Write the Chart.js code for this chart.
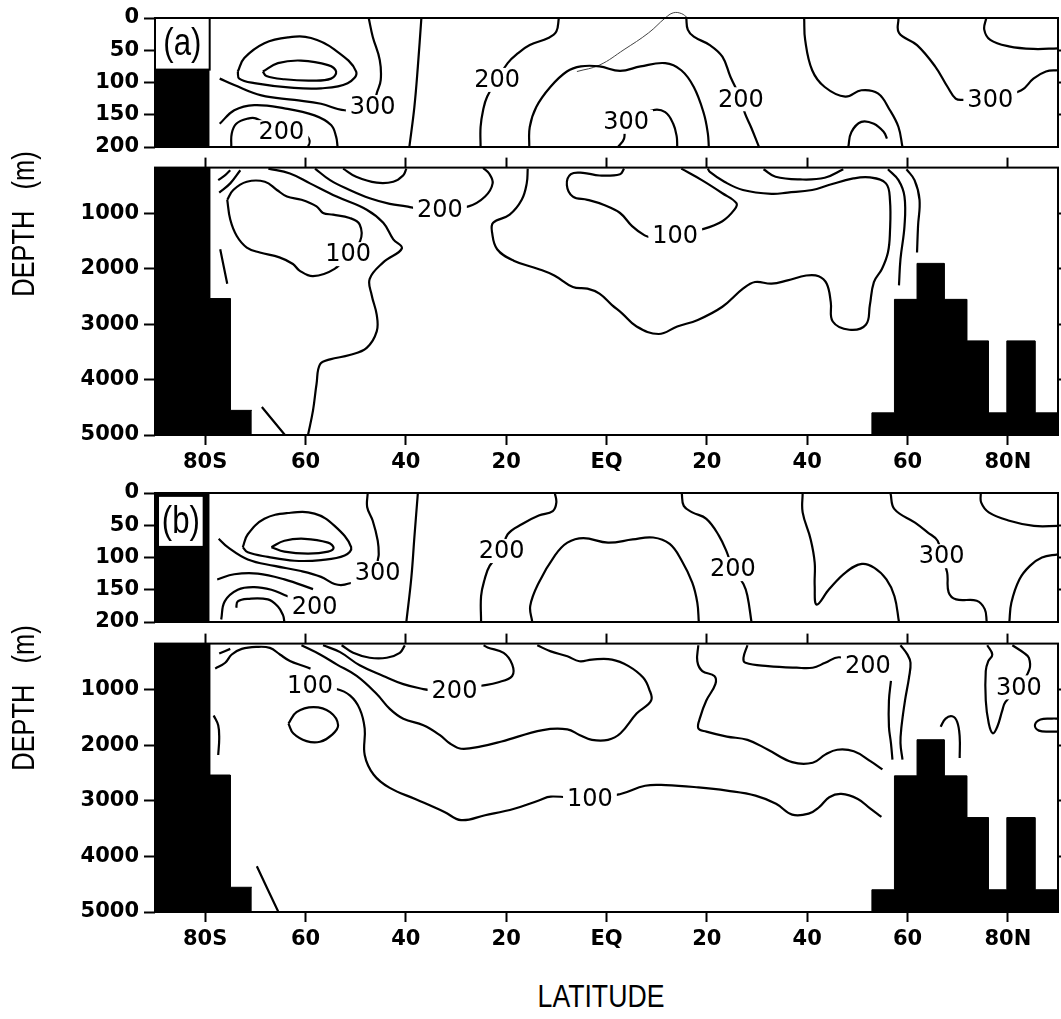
<!DOCTYPE html>
<html>
<head>
<meta charset="utf-8">
<title>Sections</title>
<script src="https://cdn.jsdelivr.net/npm/chart.js@4.4.1/dist/chart.umd.min.js"></script>
<style>
  body { margin: 0; background: #fff; }
  #page { position: relative; width: 1061px; height: 1019px; overflow: hidden; }
  #page canvas { position: absolute; left: 0; }
  .title {
    position: absolute;
    font-family: "Liberation Sans", Arial, sans-serif;
    font-size: 31px;
    line-height: 34px;
    color: #000;
    text-align: center;
    white-space: pre;
  }
  .ytitle { width: 300px; transform: rotate(-90deg) scaleX(0.82); }
  .xtitle { transform: scaleX(0.86); }
</style>
</head>
<body>
<div id="page">
  <canvas id="aUpper" width="1061" height="165" style="top:0px"></canvas>
  <canvas id="aLower" width="1061" height="335" style="top:150px"></canvas>
  <canvas id="bUpper" width="1061" height="165" style="top:475px"></canvas>
  <canvas id="bLower" width="1061" height="336" style="top:626px"></canvas>
  <div class="title ytitle" style="left:-126px; top:207px">DEPTH   (m)</div>
  <div class="title ytitle" style="left:-126px; top:681px">DEPTH   (m)</div>
  <div class="title xtitle" style="left:401px; top:980px; width:400px">LATITUDE</div>
</div>
<script>
const latTicks = [-80, -60, -40, -20, 0, 20, 40, 60, 80];
const latTickLabels = ['80S', '60', '40', '20', 'EQ', '20', '40', '60', '80N'];
const upperDepthTicks = [0, 50, 100, 150, 200];
const lowerDepthTicks = [1000, 2000, 3000, 4000, 5000];
const lowerTop = 170;

// bottom topography (step edges in latitude, top of each step in metres)
const southEdges = [-90, -79.1, -75.0, -70.7];
const southTops = [lowerTop, 2535, 4555];
const northEdges = [52.9, 57.4, 61.9, 67.3, 71.8, 76.1, 79.8, 85.4, 90];
const northTops = [4600, 2550, 1900, 2550, 3300, 4600, 3300, 4600];
const shelfTopA = 80;
const shelfTopB = 0;

// isolines as [latitude, depth] pairs
const upperA = [
  [[-68.5,83],[-65.5,70],[-60.9,66],[-55.5,73],[-53.9,83],[-54.9,94],[-58.9,97],[-64.2,95],[-67.8,90],[-68.5,83]],
  [[-73.5,83],[-72.2,62],[-68.2,39],[-63.5,30],[-58.9,31],[-54.2,49],[-49.9,83],[-51.6,101],[-56.9,109],[-62.9,108],[-70.2,101],[-73.2,94],[-73.5,83]],
  [[-47.4,0],[-46.6,29],[-45.2,65],[-45.0,96],[-45.7,114],[-46.9,138],[-52.2,143],[-56.9,133],[-62.2,127],[-68.8,120],[-74.2,104],[-77.1,94]],
  [[-77.1,164],[-74.2,143],[-70.2,135],[-64.2,140],[-58.2,151],[-54.9,166],[-53.9,184],[-53.6,200]],
  [[-74.8,200],[-74.7,179],[-73.8,164],[-71.5,156],[-69.8,156],[-64.8,177],[-60.1,182],[-59.2,190],[-59.5,200]],
  [[-36.9,0],[-37.6,75],[-38.3,138],[-39.3,200]],
  [[-9.5,0],[-10.0,21],[-11.6,31],[-15.3,42],[-17.7,55],[-19.7,70],[-21.8,96],[-23.8,122],[-24.6,143],[-25.1,169],[-25.1,200]],
  [[-15.4,200],[-15.3,169],[-14.0,138],[-11.2,107],[-7.9,83],[-5.1,75],[-1.4,75],[2.7,82],[6.8,75],[11.7,70],[14.9,81],[17.4,107],[19.4,148],[20.2,179],[20.4,200]],
  [[2.3,200],[3.5,187],[3.9,161],[9.2,143],[11.7,146],[13.3,164],[14.0,184],[14.1,200]],
  [[15.9,0],[16.2,18],[17.4,29],[20.6,42],[23.1,60],[24.7,91],[26.8,126],[27.6,148],[28.8,169],[30.4,200]],
  [[39.4,0],[39.6,34],[41.0,81],[43.5,107],[47.6,122],[50.8,112],[54.1,117],[56.5,143],[58.2,169],[59.0,200]],
  [[48.2,200],[48.8,177],[50.8,161],[53.3,164],[55.3,177],[55.9,187]],
  [[58.2,0],[58.3,23],[61.9,42],[65.5,75],[68.0,107],[69.6,125],[71.2,127],[76.5,127],[82.7,112],[85.1,94],[87.6,83],[90,81]],
  [[75.7,0],[75.3,18],[76.5,34],[80.2,44],[85.1,48],[90,47]]
];
const upperALabels = [[-46.6,138,'300'],[-64.8,177,'200'],[-21.8,96,'200'],[3.9,161,'300'],[26.8,126,'200'],[76.5,127,'300']];
// faint pencil stroke crossing the top edge
const upperAStroke = [[-5.9,83],[-1.4,73],[3.5,49],[8.4,23],[11.7,0],[13.3,-8],[14.9,-7],[16.2,0]];

const lowerA = [
  [[-77.4,396],[-76.0,307],[-75.0,218]],
  [[-77.2,621],[-75.0,455],[-73.0,218]],
  [[-75.6,752],[-74.4,574],[-71.7,425],[-68.1,425],[-65.7,574],[-63.7,693],[-60.8,752],[-57.8,871],[-56.5,990],[-54.5,1020],[-51.2,1079],[-49.2,1198],[-49.1,1495],[-51.5,1733],[-54.2,2000],[-58.5,2131],[-61.2,2030],[-62.5,1911],[-65.2,1792],[-69.1,1703],[-71.7,1614],[-73.7,1406],[-75.0,1109],[-75.6,752]],
  [[-67.4,188],[-63.1,277],[-59.1,455],[-53.8,693],[-47.8,930],[-44.5,1168],[-42.5,1465],[-40.8,1632],[-44.5,1881],[-47.2,2178],[-46.8,2475],[-45.8,2831],[-45.8,3129],[-47.8,3426],[-51.2,3556],[-55.1,3634],[-57.1,3723],[-57.8,4079],[-58.5,4555],[-59.5,5000]],
  [[-58.1,188],[-55.1,396],[-51.2,574],[-47.2,723],[-43.2,824],[-39.9,871],[-38.2,901],[-33.2,931],[-27.5,871],[-24.2,692],[-22.7,455],[-23.4,277],[-24.6,176]],
  [[-52.5,188],[-49.9,336],[-45.8,443],[-42.5,425],[-40.5,307],[-39.9,188]],
  [[-77.0,1644],[-75.6,2267]],
  [[-68.7,4495],[-64.1,5000]],
  [[-15.7,188],[-15.9,455],[-16.9,752],[-19.3,1020],[-22.6,1168],[-22.8,1346],[-21.8,1644],[-18.5,1851],[-13.6,2000],[-10.4,2119],[-6.7,2327],[-3.8,2357],[-1.4,2446],[1.1,2653],[3.1,2802],[6.0,3040],[10.4,3176],[14.1,3040],[18.2,2921],[23.1,2683],[27.2,2357],[29.6,2237],[32.9,2267],[36.1,2208],[39.8,2119],[42.3,2131],[43.9,2267],[44.7,2594],[45.1,2950],[48.4,3099],[51.7,3010],[52.5,2653],[53.3,2237],[54.9,2000],[56.1,1703],[56.5,1346],[56.5,752],[55.7,455],[52.5,348],[49.2,366],[44.3,485],[41.0,574],[36.1,621],[32.9,645],[27.2,574],[23.5,425],[20.6,247],[20.2,188]],
  [[3.5,188],[2.7,289],[-1.4,313],[-4.7,265],[-7.1,289],[-7.9,485],[-6.7,693],[-3.8,752],[-0.6,841],[2.7,990],[5.1,1227],[7.6,1394],[9.2,1435],[13.7,1394],[19.0,1287],[23.1,1138],[25.5,930],[25.9,812],[23.1,633],[19.0,396],[14.9,188]],
  [[31.3,200],[33.7,336],[38.6,384],[43.5,354],[47.2,200]],
  [[56.1,200],[58.2,396],[59.4,693],[59.4,1227],[58.6,1822],[58.3,2297]],
  [[59.8,200],[61.4,396],[62.4,752],[62.1,1227],[61.9,1703]]
];
const lowerALabels = [[-51.5,1733,'100'],[-33.2,931,'200'],[13.7,1394,'100']];

const upperB = [
  [[-66.8,84],[-64.2,74],[-60.2,71],[-55.5,77],[-54.4,85],[-55.5,91],[-59.5,94],[-64.2,91],[-66.8,84]],
  [[-72.5,84],[-71.5,64],[-68.2,40],[-63.5,31],[-58.2,32],[-54.2,51],[-50.9,84],[-52.2,97],[-56.9,104],[-62.2,105],[-67.5,99],[-71.5,92],[-72.5,84]],
  [[-47.6,0],[-47.7,22],[-46.6,43],[-45.6,74],[-45.4,95],[-45.6,105],[-45.6,124],[-52.2,142],[-54.2,141],[-56.9,130],[-60.9,121],[-66.2,113],[-71.5,103],[-75.5,84],[-77.3,71]],
  [[-77.6,134],[-74.2,126],[-69.5,125],[-64.2,134],[-58.5,149]],
  [[-76.8,196],[-76.1,168],[-73.5,150],[-70.2,146],[-66.8,150],[-64.2,158],[-58.2,176]],
  [[-73.8,178],[-73.5,168],[-71.5,164],[-67.5,165],[-65.5,176],[-64.5,189],[-64.2,200]],
  [[-37.6,0],[-38.3,69],[-38.9,131],[-39.9,200]],
  [[-10.3,0],[-10.0,15],[-10.7,28],[-13.5,35],[-16.8,48],[-19.7,64],[-20.9,90],[-23.3,113],[-24.3,134],[-25.0,160],[-25.0,200]],
  [[-14.8,200],[-15.2,175],[-13.5,139],[-10.3,97],[-7.8,77],[-4.6,70],[0.3,77],[5.2,72],[9.3,69],[12.6,79],[15.0,105],[17.1,139],[18.1,170],[18.4,200]],
  [[15.0,0],[15.4,20],[17.1,30],[19.9,40],[22.4,66],[24.0,92],[25.2,118],[27.3,141],[28.1,160],[28.9,200]],
  [[39.1,0],[39.1,30],[40.7,72],[41.5,108],[41.5,144],[41.9,173],[44.4,149],[47.7,123],[50.9,110],[53.4,116],[55.8,134],[57.4,160],[58.3,200]],
  [[56.6,0],[57.4,25],[61.5,46],[64.0,61],[66.0,74],[66.8,98],[67.9,123],[68.2,154],[69.7,165],[73.8,167],[75.4,180],[75.8,200]],
  [[74.6,0],[74.7,15],[76.2,30],[80.3,43],[85.2,51],[90,51]],
  [[80.3,200],[80.7,170],[82.3,134],[84.4,113],[86.8,100],[90,95]]
];
const upperBLabels = [[-45.6,124,'300'],[-58.2,176,'200'],[-20.9,90,'200'],[25.2,118,'200'],[66.8,98,'300']];

const lowerB = [
  [[-78.0,620],[-76.0,514],[-74.7,366],[-72.7,265],[-69.7,229],[-67.1,247],[-65.1,366],[-63.1,484],[-60.4,573],[-59.0,620]],
  [[-77.2,348],[-75.0,265]],
  [[-59.1,929],[-53.8,988],[-51.1,1107],[-49.2,1344],[-48.2,1700],[-48.2,2174],[-46.4,2530],[-43.2,2767],[-37.9,2975],[-32.3,3200],[-29.0,3347],[-24.2,3259],[-18.4,3141],[-13.5,2993],[-11.1,2922],[-3.3,2965],[2.8,2876],[7.7,2728],[11.8,2717],[18.3,2758],[24.0,2816],[29.7,2905],[33.8,3053],[37.0,3248],[40.3,3230],[42.4,3112],[44.4,2935],[46.8,2876],[50.1,2965],[52.6,3141],[54.8,3289]],
  [[-60.8,200],[-57.1,366],[-53.8,543],[-49.8,751],[-45.8,1077],[-43.2,1344],[-40.5,1522],[-36.5,1640],[-33.2,1818],[-31.2,1967],[-29.0,2062],[-25.0,2020],[-20.9,1931],[-12.7,1726],[-7.8,1713],[-5.4,1814],[-2.9,1903],[0.3,1903],[2.8,1784],[6.0,1430],[8.9,1195],[8.5,988],[7.3,781],[4.4,575],[1.1,457],[-2.9,457],[-5.4,487],[-7.8,398],[-11.1,310],[-13.8,200]],
  [[-56.5,200],[-53.1,324],[-49.2,561],[-44.5,751],[-40.5,899],[-36.5,988],[-34.9,1006],[-30.3,1018],[-25.0,929],[-21.7,869],[-18.8,752],[-18.8,545],[-20.5,338],[-23.7,239],[-24.5,200]],
  [[-52.8,200],[-50.5,336],[-47.2,425],[-43.8,425],[-41.2,336],[-40.2,200]],
  [[-63.4,1611],[-61.8,1403],[-58.4,1314],[-55.1,1403],[-53.5,1640],[-54.8,1818],[-57.1,1937],[-59.8,1925],[-62.4,1789],[-63.4,1611]],
  [[-78.3,1463],[-77.4,1640],[-77.2,1878],[-77.4,2174]],
  [[-69.7,4178],[-65.4,5000]],
  [[18.3,200],[18.1,487],[19.1,664],[21.5,752],[21.7,899],[19.9,1195],[18.7,1489],[18.3,1696],[19.9,1754],[24.0,1843],[28.1,1903],[32.2,2080],[37.0,2303],[41.1,2315],[43.6,2168],[46.0,2080],[49.3,2108],[52.6,2285],[55.0,2434]],
  [[28.1,200],[27.3,427],[27.7,516],[32.2,575],[37.9,604],[41.1,604],[43.6,516],[46.4,416],[52.1,575]],
  [[58.6,200],[60.0,368],[60.6,515],[60.3,781],[59.5,1195],[58.8,1666],[58.6,1961],[59.0,2257]],
  [[56.7,841],[56.3,1195],[56.3,1666],[56.7,1961],[57.0,2257]],
  [[66.6,1666],[67.6,1519],[68.9,1478],[69.9,1577],[70.4,1843],[70.4,2227]],
  [[80.9,200],[83.2,338],[84.2,427],[84.3,634],[82.2,958],[79.5,1224],[78.9,1372],[77.9,1666],[77.0,1784],[76.2,1607],[75.6,1195],[75.6,664],[76.1,487],[76.9,368],[75.9,200]],
  [[90,1519],[88.8,1519],[86.5,1537],[85.4,1637],[86.2,1736],[88.8,1754],[90,1754]]
];
const lowerBLabels = [[-59.1,929,'100'],[-3.3,2965,'100'],[-30.3,1018,'200'],[52.1,575,'200'],[82.2,958,'300']];

const tickFont = { family: 'DejaVu Sans', weight: 'bold', size: 21 };

function isolines(lines) {
  return lines.map(pts => ({
    data: pts.map(p => ({ x: p[0], y: p[1] })),
    borderColor: '#000', borderWidth: 2.2, pointRadius: 0, tension: 0.4,
    fill: false, yAxisID: 'y', order: 0
  }));
}

// stepped outline of the sea floor, filled down to `base`
function floor(edges, tops, base) {
  const pts = [{ x: edges[0], y: base }];
  tops.forEach((t, i) => {
    pts.push({ x: edges[i], y: t }, { x: edges[i + 1], y: t });
  });
  return {
    data: pts, borderColor: '#000', borderWidth: 1, backgroundColor: '#000',
    pointRadius: 0, tension: 0, fill: { value: base }, yAxisID: 'y', order: 1
  };
}

const frame = {
  id: 'frame',
  afterDatasetsDraw(chart) {
    const { ctx, chartArea: a } = chart;
    ctx.save();
    ctx.strokeStyle = '#000';
    ctx.lineWidth = 2;
    ctx.strokeRect(a.left, a.top, a.right - a.left, a.bottom - a.top);
    ctx.restore();
  }
};

function valueLabels(items) {
  return {
    id: 'valueLabels',
    afterDatasetsDraw(chart) {
      const { ctx, scales: { x, y } } = chart;
      ctx.save();
      ctx.font = '24px "DejaVu Sans"';
      ctx.textAlign = 'center';
      ctx.textBaseline = 'middle';
      items.forEach(([lat, dep, txt]) => {
        const px = x.getPixelForValue(lat), py = y.getPixelForValue(dep);
        const w = ctx.measureText(txt).width;
        ctx.fillStyle = '#fff';
        ctx.fillRect(px - w / 2 - 4, py - 12, w + 8, 24);
        ctx.fillStyle = '#000';
        ctx.fillText(txt, px, py + 1);
      });
      ctx.restore();
    }
  };
}

function panelTag(text, box, outline) {
  return {
    id: 'panelTag',
    afterDatasetsDraw(chart) {
      const { ctx, scales: { x, y } } = chart;
      const l = x.getPixelForValue(box[0]), r = x.getPixelForValue(box[1]);
      const t = y.getPixelForValue(box[2]), b = y.getPixelForValue(box[3]);
      ctx.save();
      ctx.fillStyle = '#fff';
      ctx.fillRect(l, t, r - l, b - t);
      if (outline) {
        ctx.strokeStyle = '#000';
        ctx.lineWidth = 2;
        ctx.strokeRect(l, t, r - l, b - t);
      }
      ctx.fillStyle = '#000';
      ctx.font = '38px "Liberation Sans", sans-serif';
      ctx.textAlign = 'center';
      ctx.textBaseline = 'middle';
      ctx.translate((l + r) / 2, (t + b) / 2 + 1);
      ctx.scale(0.82, 1);
      ctx.fillText(text, 0, 0);
      ctx.restore();
    }
  };
}

function depthAxis(min, max, ticks, side) {
  const left = side === 'left';
  return {
    type: 'linear', min: min, max: max, reverse: true, position: side,
    afterBuildTicks: s => { s.ticks = ticks.map(v => ({ value: v })); },
    afterFit: s => { s.width = left ? 155 : 3; },
    ticks: { display: left, font: tickFont, color: '#000', padding: 5, callback: v => String(v) },
    grid: { drawOnChartArea: false, tickLength: left ? 11 : 8, tickColor: '#000', tickWidth: 2 },
    border: { display: false }
  };
}

function baseOptions(padding) {
  return {
    responsive: false, animation: false, events: [],
    layout: { padding: padding },
    plugins: { legend: { display: false }, tooltip: { enabled: false } }
  };
}

function upperChart(id, lines, labels, shelfTop, tag, extra) {
  const datasets = isolines(lines);
  datasets.push(floor([southEdges[0], southEdges[1]], [shelfTop], 200));
  (extra || []).forEach(d => datasets.push(d));
  const options = baseOptions({ top: 18, bottom: 18, left: 0, right: 0 });
  options.scales = {
    x: { type: 'linear', min: -90, max: 90, display: false },
    y: depthAxis(0, 200, upperDepthTicks, 'left'),
    yr: depthAxis(0, 200, upperDepthTicks.slice(1, 4), 'right')
  };
  return new Chart(document.getElementById(id), {
    type: 'line', data: { datasets: datasets }, options: options,
    plugins: [valueLabels(labels), tag, frame]
  });
}

function lowerChart(id, lines, labels) {
  const datasets = isolines(lines);
  datasets.push(floor(southEdges, southTops, 5000));
  datasets.push(floor(northEdges, northTops, 5000));
  const options = baseOptions({ top: 0, bottom: 0, left: 0, right: 0 });
  options.scales = {
    x: {
      type: 'linear', min: -90, max: 90, position: 'bottom',
      afterBuildTicks: s => { s.ticks = latTicks.map(v => ({ value: v })); },
      afterFit: s => { s.height = 50; },
      ticks: {
        font: tickFont, color: '#000', padding: 5, maxRotation: 0, autoSkip: false,
        callback: (v, i) => latTickLabels[i]
      },
      grid: { drawOnChartArea: false, tickLength: 10, tickColor: '#000', tickWidth: 2 },
      border: { display: false }
    },
    xt: {
      type: 'linear', min: -90, max: 90, position: 'top',
      afterBuildTicks: s => { s.ticks = latTicks.map(v => ({ value: v })); },
      afterFit: s => { s.height = 14; },
      ticks: { display: false },
      grid: { drawOnChartArea: false, tickLength: 10, tickColor: '#000', tickWidth: 2 },
      border: { display: false }
    },
    y: depthAxis(lowerTop, 5000, lowerDepthTicks, 'left'),
    yr: depthAxis(lowerTop, 5000, lowerDepthTicks.slice(0, 4), 'right')
  };
  return new Chart(document.getElementById(id), {
    type: 'line', data: { datasets: datasets }, options: options,
    plugins: [valueLabels(labels), frame]
  });
}

const stroke = {
  data: upperAStroke.map(p => ({ x: p[0], y: p[1] })),
  borderColor: '#444', borderWidth: 1, pointRadius: 0, tension: 0.4,
  fill: false, yAxisID: 'y', clip: false, order: 0
};

upperChart('aUpper', upperA, upperALabels, shelfTopA, panelTag('(a)', [-90, -79.1, 0, 80], true), [stroke]);
lowerChart('aLower', lowerA, lowerALabels);
upperChart('bUpper', upperB, upperBLabels, shelfTopB, panelTag('(b)', [-89.2, -80.5, 6, 82], false));
lowerChart('bLower', lowerB, lowerBLabels);
</script>
</body>
</html>
